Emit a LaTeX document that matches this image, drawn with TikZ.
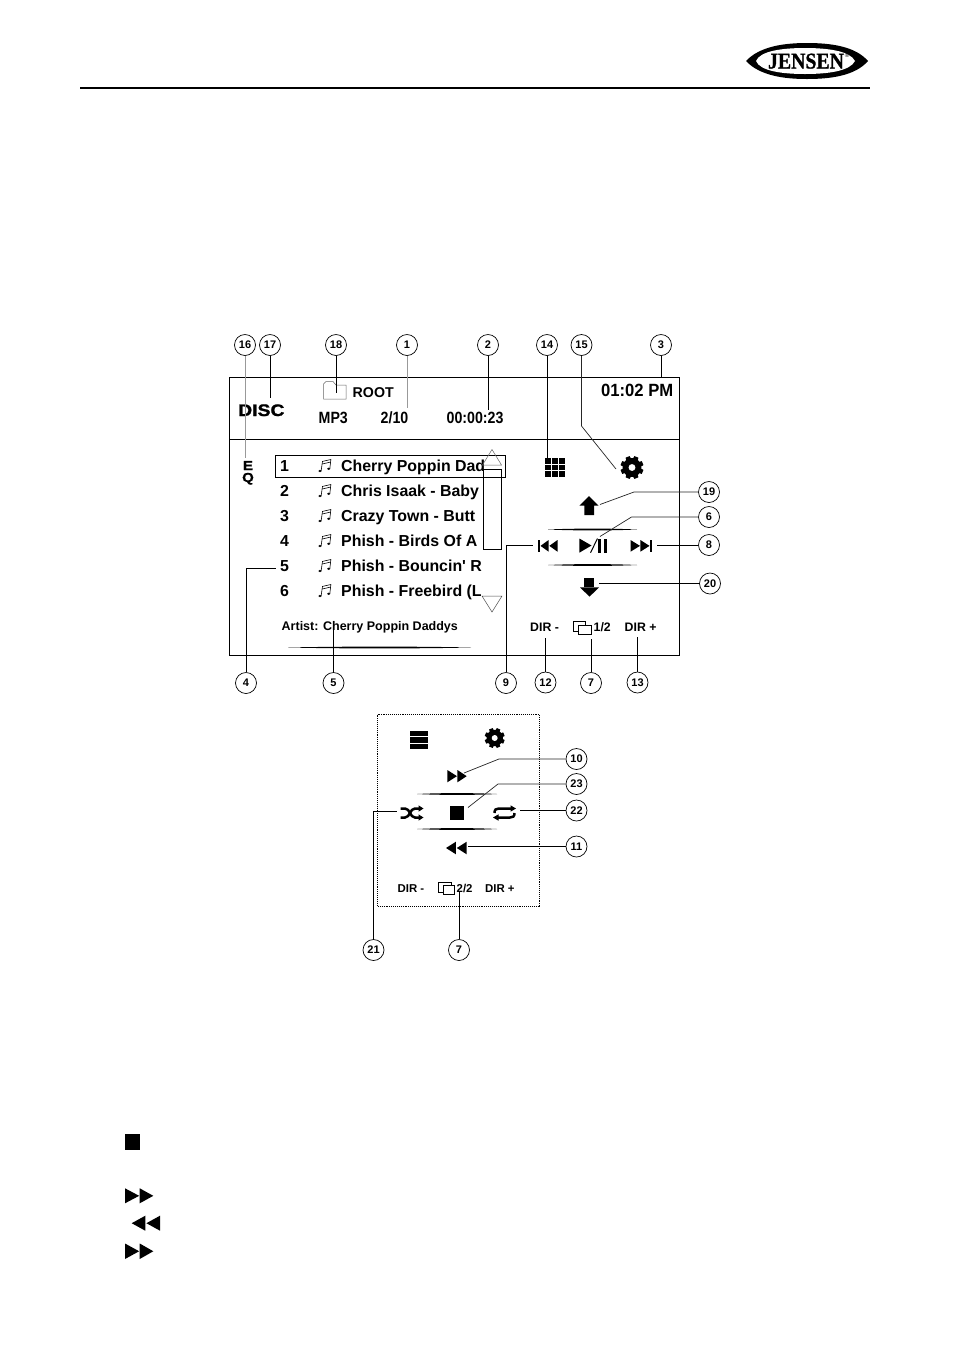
\documentclass[tikz,border=0pt]{standalone}
\usepackage{fontspec}
\setmainfont{Liberation Sans}
\newfontfamily\narrowfont[FakeStretch=0.87]{Liberation Sans Bold}
\newfontfamily\clockfont[FakeStretch=0.94]{Liberation Sans Bold}
\newfontfamily\wideboldfont[FakeStretch=1.16,FakeBold=1.2]{Liberation Sans Bold}
\newfontfamily\logofont[FakeStretch=0.88,FakeBold=1]{Liberation Serif Bold}

\tikzstyle{callout} = [draw, circle, inner sep=0pt, minimum size=21pt, line width=0.7pt, font=\fontsize{11}{12}\selectfont\bfseries]
\tikzstyle{lead} = [line width=0.95pt]
\tikzstyle{leadthin} = [line width=0.7pt, black!85]
\tikzstyle{leadgray} = [line width=0.9pt, black!40]
\tikzstyle{frame} = [line width=1pt]
\tikzstyle{rowtext} = [anchor=base west, inner sep=0pt, font=\fontsize{15.9}{18}\selectfont\bfseries]
\tikzstyle{smalltext} = [anchor=base west, inner sep=0pt, font=\fontsize{12.3}{14}\selectfont\bfseries]
\tikzstyle{tinytext} = [anchor=base west, inner sep=0pt, font=\fontsize{11.4}{13}\selectfont\bfseries]
\tikzstyle{clocktext} = [anchor=base west, inner sep=0pt, font=\fontsize{16.3}{18}\selectfont\narrowfont]

% fast forward pair, unit triangles scaled to w x h
\newcommand{\ffwdicon}[4]{\begin{scope}[shift={(#1,#2)},xscale=#3,yscale=#4]
    \fill (0,0) -- (0.5,0.5) -- (0,1) -- cycle;
    \fill (0.52,0) -- (1,0.5) -- (0.52,1) -- cycle;
\end{scope}}
\newcommand{\rewdicon}[4]{\begin{scope}[shift={(#1,#2)},xscale=#3,yscale=#4]
    \fill (1,0) -- (0.52,0.5) -- (1,1) -- cycle;
    \fill (0.48,0) -- (0,0.5) -- (0.48,1) -- cycle;
\end{scope}}
% cog with hole
\newcommand{\gearicon}[3]{\begin{scope}[shift={(#1,#2)},scale=#3]
    \fill circle [radius=0.82];
    \foreach \a in {0,45,...,315} {\fill [rotate=\a+22.5] (-0.22,0.7) -- (-0.19,1) -- (0.19,1) -- (0.22,0.7) -- cycle;}
    \fill [white] circle [radius=0.3];
\end{scope}}
% thin tapered bar
\newcommand{\lensbar}[3]{\fill [black] (#1,#3) .. controls ({#1+0.3*(#2-#1)},{#3-1.2}) and ({#1+0.7*(#2-#1)},{#3-1.2}) .. (#2,#3) .. controls ({#1+0.7*(#2-#1)},{#3+1.2}) and ({#1+0.3*(#2-#1)},{#3+1.2}) .. (#1,#3) -- cycle;}
% two overlapping windows
\newcommand{\pagesicon}[8]{\draw [line width=0.7pt] (#1,#2) rectangle (#3,#4);
    \draw [line width=0.7pt, fill=white] (#5,#6) rectangle (#7,#8);}
% eighth notes
\newcommand{\noteicon}[2]{\begin{scope}[shift={(#1,#2)}]
    \draw [line width=0.6pt] (2.6,12) -- (4,2.4) -- (12.4,0.5) -- (11.3,9.8);
    \draw [line width=0.6pt] (3.8,5) -- (12.2,3);
    \fill (1.5,12) circle [x radius=1.7, y radius=1.2];
    \fill (10.2,9.8) circle [x radius=1.7, y radius=1.2];
\end{scope}}

\begin{document}
\begin{tikzpicture}[x=1pt,y=-1pt,>=stealth]
    \useasboundingbox (0,0) rectangle (954,1345);
    \fill [white] (0,0) rectangle (954,1345);

    % page header
    \draw [line width=1.4pt] (80,88) -- (870,88);
    \fill [black] (746,61) .. controls (760,46) and (785,43) .. (807,43) .. controls (830,43) and (855,46) .. (868,61) .. controls (855,76) and (830,79) .. (807,79) .. controls (785,79) and (760,76) .. (746,61) -- cycle;
    \fill [white] (756,61) .. controls (760,51) and (782,48) .. (805,48) .. controls (828,48) and (850,51) .. (855,61) .. controls (850,71) and (828,74) .. (805,74) .. controls (782,74) and (760,71) .. (756,61) -- cycle;
    \node (logo) at (806,68.5) [anchor=base, inner sep=0pt, font=\fontsize{22.5}{24}\selectfont\logofont] {JENSEN};
    \node (logomark) at (847,55.5) [inner sep=0pt, font=\fontsize{6}{7}\selectfont] {\textregistered};

    % main screen
    \draw [frame] (229.5,377.5) rectangle (679.5,655.5);
    \draw [frame] (229.5,439.5) -- (679.5,439.5);

    % top bar
    \draw [line width=0.5pt, black!60] (323.5,399) -- (323.5,384) -- (326,381.5) -- (333,381.5) -- (336,385) -- (346,385) -- (346,399) -- cycle;
    \node (disc) at (238,416) [anchor=base west, inner sep=0pt, font=\fontsize{16.7}{18}\selectfont\wideboldfont] {DISC};
    \node (root) at (352.5,397) [anchor=base west, inner sep=0pt, font=\fontsize{14.2}{16}\selectfont\bfseries] {ROOT};
    \node (mpthree) at (318.5,423.5) [clocktext] {MP3};
    \node (trackno) at (380.5,423.5) [clocktext] {2/10};
    \node (elapsed) at (446.5,423.5) [clocktext] {00:00:23};
    \node (clock) at (601,396) [anchor=base west, inner sep=0pt, font=\fontsize{17.7}{20}\selectfont\clockfont] {01:02 PM};

    % track list
    \node (eqe) at (248,470) [anchor=base, inner sep=0pt, font=\fontsize{13}{14}\selectfont\wideboldfont] {E};
    \node (eqq) at (248,482) [anchor=base, inner sep=0pt, font=\fontsize{13}{14}\selectfont\wideboldfont] {Q};
    \draw [frame] (275.5,455.5) rectangle (505.5,477.5);

    \node (numa) at (280,471) [rowtext] {1};
    \node (numb) at (280,496) [rowtext] {2};
    \node (numc) at (280,521) [rowtext] {3};
    \node (numd) at (280,546) [rowtext] {4};
    \node (nume) at (280,571) [rowtext] {5};
    \node (numf) at (280,596) [rowtext] {6};
    \noteicon{318.5}{459}
    \noteicon{318.5}{484}
    \noteicon{318.5}{509}
    \noteicon{318.5}{534}
    \noteicon{318.5}{559}
    \noteicon{318.5}{584}
    \node (tracka) at (341,471) [rowtext] {Cherry Poppin Dad};
    \node (trackb) at (341,496) [rowtext] {Chris Isaak - Baby};
    \node (trackc) at (341,521) [rowtext] {Crazy Town - Butt};
    \node (trackd) at (341,546) [rowtext] {Phish - Birds Of A};
    \node (tracke) at (341,571) [rowtext] {Phish - Bouncin\textquotesingle{} R};
    \node (trackf) at (341,596) [rowtext] {Phish - Freebird (L};

    \node (artist) at (281.5,630) [anchor=base west, inner sep=0pt, font=\fontsize{12.5}{14}\selectfont\bfseries] {Artist: Cherry Poppin Daddys};
    \lensbar{288}{471}{647.5}

    % scroll bar
    \draw [line width=0.5pt, black!60] (492,449.5) -- (482.5,465) -- (501.5,465) -- cycle;
    \draw [frame] (483.5,549.5) -- (483.5,469.5) -- (501.5,469.5) -- (501.5,549.5) -- cycle;
    \draw [line width=0.5pt, black!70] (482,596) -- (502,596) -- (492,612) -- cycle;

    % right hand keys
    \foreach \i in {0,1,2} {\foreach \j in {0,1,2} {\fill (545+6.9*\i,458+6.6*\j) rectangle +(6,5.8);}}
    \gearicon{632}{467.5}{11.5}
    \fill (589,496) -- (598.7,505.7) -- (594,505.7) -- (594,515) -- (584.3,515) -- (584.3,505.7) -- (579.3,505.7) -- cycle;
    \lensbar{548}{637}{529.5}
    \lensbar{548}{637}{565}
    \fill (537.7,540) rectangle (540.2,551.7);
    \rewdicon{540.5}{540}{17}{11.7}
    \fill (579.3,538.5) -- (591.5,545.5) -- (579.3,552.7) -- cycle;
    \draw [line width=1pt] (590.5,552.7) -- (597.5,538.5);
    \fill (598,538.5) rectangle (601,552.7);
    \fill (603.5,538.5) rectangle (606.7,552.7);
    \ffwdicon{630.5}{540}{19}{11.7}
    \fill (649.5,540) rectangle (652,551.7);
    \fill (584.3,578.3) rectangle (594,587.3);
    \fill (580,587.3) -- (599,587.3) -- (589.5,596.7) -- cycle;
    \node (dirminus) at (530,631) [smalltext] {DIR -};
    \pagesicon{573.5}{621.7}{585}{631.7}{578.5}{625.7}{591.3}{634.3}
    \node (pageno) at (593.5,631) [smalltext] {1/2};
    \node (dirplus) at (624.5,631) [smalltext] {DIR +};

    % second key page
    \draw [line width=0.9pt, densely dotted] (377.5,714.5) rectangle (539.5,906);
    \fill (410,731) rectangle (428.3,736.3);
    \fill (410,737.4) rectangle (428.3,742.7);
    \fill (410,743.8) rectangle (428.3,749);
    \gearicon{494.7}{738}{10}
    \ffwdicon{447.3}{770}{19.4}{12.3}
    \lensbar{417}{497}{794}
    \lensbar{417}{497}{829}
    \fill (450,806) rectangle (464.3,820);
    % shuffle
    \draw [line width=2.5pt] (400.5,808.5) -- (405,808.5) .. controls (410,808.5) and (410,817.5) .. (415,817.5) -- (419,817.5);
    \draw [line width=2.5pt] (400.5,817.5) -- (405,817.5) .. controls (410,817.5) and (410,808.5) .. (415,808.5) -- (419,808.5);
    \fill (418.5,805.3) -- (423.5,808.5) -- (418.5,811.7) -- cycle;
    \fill (418.5,814.3) -- (423.5,817.5) -- (418.5,820.7) -- cycle;
    % repeat
    \draw [line width=2.5pt] (494.5,813) .. controls (494.5,809.5) and (496,808.5) .. (499,808.5) -- (511,808.5);
    \fill (510.5,805.3) -- (516,808.5) -- (510.5,811.7) -- cycle;
    \draw [line width=2.5pt] (514.5,813) .. controls (514.5,816.5) and (513,817.5) .. (510,817.5) -- (498,817.5);
    \fill (498.5,814.3) -- (493,817.5) -- (498.5,820.7) -- cycle;
    \rewdicon{446}{841.7}{20.7}{12.6}
    \node (dirminusb) at (397.5,892.3) [tinytext] {DIR -};
    \pagesicon{438.5}{882.3}{451.7}{892.3}{443.5}{885.7}{454.3}{894.3}
    \node (pagenob) at (456.5,892.3) [tinytext] {2/2};
    \node (dirplusb) at (485,892.3) [tinytext] {DIR +};

    % keys in the text below
    \fill (125,1134) rectangle (140,1150);
    \ffwdicon{125}{1188.3}{28.3}{15}
    \rewdicon{131.7}{1215.7}{28.3}{15}
    \ffwdicon{125}{1243.5}{28.3}{15.5}

    % numbered callouts, top row
    \node (c16) at (245,345) [callout] {16};
    \node (c17) at (270,345) [callout] {17};
    \node (c18) at (336,345) [callout] {18};
    \node (c1) at (407,345) [callout] {1};
    \node (c2) at (488,345) [callout] {2};
    \node (c14) at (547,345) [callout] {14};
    \node (c15) at (581.5,345) [callout] {15};
    \node (c3) at (661,345) [callout] {3};
    % right side
    \node (c19) at (709,492) [callout] {19};
    \node (c6) at (709,517) [callout] {6};
    \node (c8) at (709,545) [callout] {8};
    \node (c20) at (710,583.5) [callout] {20};
    % bottom row
    \node (c4) at (246,683) [callout] {4};
    \node (c5) at (333.5,683) [callout] {5};
    \node (c9) at (506,683) [callout] {9};
    \node (c12) at (545.5,682.5) [callout] {12};
    \node (c7) at (591,683) [callout] {7};
    \node (c13) at (637.5,682.5) [callout] {13};
    % second page
    \node (c10) at (576.5,759) [callout] {10};
    \node (c23) at (576.5,784) [callout] {23};
    \node (c22) at (576.5,810.5) [callout] {22};
    \node (c11) at (576.5,846.5) [callout] {11};
    \node (c21) at (373.5,950) [callout] {21};
    \node (c7b) at (459,950) [callout] {7};

    % leader ends
    \coordinate (t16) at (245,458);
    \coordinate (t17) at (270,398);
    \coordinate (t18) at (336,393);
    \coordinate (t1) at (407,408);
    \coordinate (t2) at (488,410);
    \coordinate (t14) at (547,458);
    \coordinate (k15) at (581.5,426);
    \coordinate (t15) at (616,469);
    \coordinate (t3) at (661,378);
    \coordinate (k19) at (634,492);
    \coordinate (t19) at (600,504.5);
    \coordinate (k6) at (631.5,517);
    \coordinate (t6) at (600,536.5);
    \coordinate (t8) at (656.5,545);
    \coordinate (t20) at (599,583.5);
    \coordinate (k4) at (246,568);
    \coordinate (t4) at (276,568);
    \coordinate (t5) at (333.5,630);
    \coordinate (k9) at (506,545);
    \coordinate (t9) at (532.5,545);
    \coordinate (t12) at (545.5,638);
    \coordinate (t7) at (591,639);
    \coordinate (t13) at (637.5,637);
    \coordinate (k10) at (499,759);
    \coordinate (t10) at (464,773);
    \coordinate (k23) at (498,784);
    \coordinate (t23) at (468,807.5);
    \coordinate (t22) at (520,810.5);
    \coordinate (t11) at (468,846.5);
    \coordinate (k21) at (373.5,811);
    \coordinate (t21) at (397,811);
    \coordinate (t7b) at (459,892);

    % leaders
    \draw [leadgray] (c16) -- (t16);
    \draw [lead] (c17) -- (t17);
    \draw [lead] (c18) -- (t18);
    \draw [leadgray] (c1) -- (t1);
    \draw [lead] (c2) -- (t2);
    \draw [lead] (c14) -- (t14);
    \draw [leadthin] (c15) -- (k15) -- (t15);
    \draw [lead] (c3) -- (t3);
    \draw [leadthin] (c19) -- (k19) -- (t19);
    \draw [leadthin] (c6) -- (k6) -- (t6);
    \draw [lead] (c8) -- (t8);
    \draw [lead] (c20) -- (t20);
    \draw [lead] (c4) -- (k4) -- (t4);
    \draw [lead] (c5) -- (t5);
    \draw [lead] (c9) -- (k9) -- (t9);
    \draw [lead] (c12) -- (t12);
    \draw [lead] (c7) -- (t7);
    \draw [lead] (c13) -- (t13);
    \draw [leadthin] (c10) -- (k10) -- (t10);
    \draw [leadthin] (c23) -- (k23) -- (t23);
    \draw [lead] (c22) -- (t22);
    \draw [lead] (c11) -- (t11);
    \draw [lead] (c21) -- (k21) -- (t21);
    \draw [lead] (c7b) -- (t7b);

\end{tikzpicture}
\end{document}
